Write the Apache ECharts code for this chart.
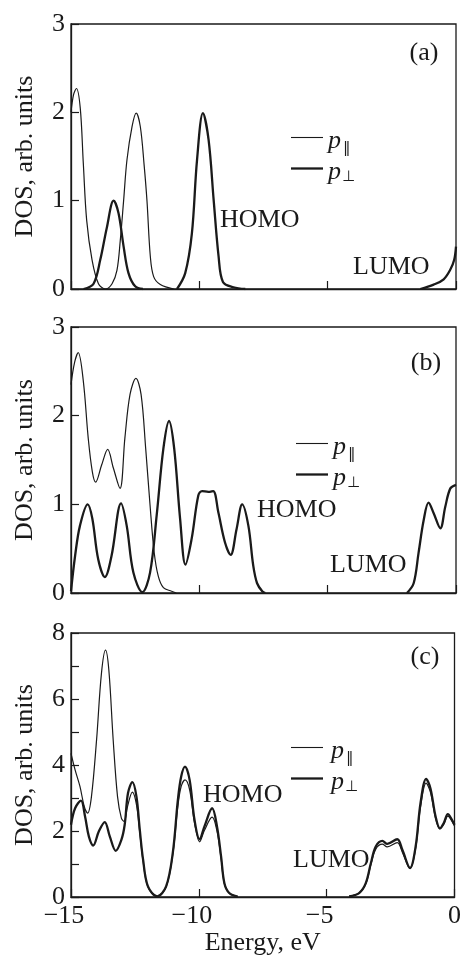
<!DOCTYPE html>
<html>
<head>
<meta charset="utf-8">
<script src="https://cdn.jsdelivr.net/npm/echarts@6/dist/echarts.min.js"></script>
<style>html,body{margin:0;padding:0;background:#fff}#c{width:464px;height:957px}</style>
</head>
<body>
<div id="c"></div>
<script>
// ---- tick labels ----
const xTicks = [-15, -10, -5, 0];
const yTicksAB = [0, 1, 2, 3];
const yTicksC = [0, 2, 4, 6, 8];
const panelLabels = ['(a)', '(b)', '(c)'];
const seriesNames = ['p‖', 'p⊥'];

// ---- panel (a): [energy eV, DOS] ----
const aPar = [[-15.0,2.00],[-14.90,2.20],[-14.79,2.27],[-14.64,2.05],[-14.52,1.42],[-14.39,0.78],[-14.18,0.33],[-13.93,0.06],[-13.66,0.0],[-13.40,0.06],[-13.21,0.21],[-13.08,0.55],[-12.95,1.00],[-12.82,1.46],[-12.62,1.84],[-12.46,1.99],[-12.30,1.84],[-12.15,1.40],[-12.04,1.00],[-11.91,0.37],[-11.78,0.14],[-11.52,0.05],[-11.0,0.0]];
const aPerp = [[-14.51,0.0],[-14.12,0.06],[-13.86,0.33],[-13.60,0.70],[-13.34,1.00],[-13.15,0.86],[-12.95,0.48],[-12.76,0.18],[-12.50,0.03],[-12.20,0.0],[null,null],[-10.87,0.0],[-10.55,0.18],[-10.29,0.63],[-10.09,1.46],[-9.86,1.99],[-9.64,1.69],[-9.44,1.00],[-9.25,0.37],[-9.08,0.08],[-8.67,0.02],[-8.21,0.0],[null,null],[-1.39,0.0],[-0.87,0.05],[-0.48,0.11],[-0.22,0.22],[-0.07,0.33],[0,0.48]];

// ---- panel (b) ----
const bPar = [[-15.0,2.35],[-14.86,2.60],[-14.72,2.71],[-14.52,2.39],[-14.33,1.75],[-14.17,1.37],[-14.04,1.25],[-13.81,1.44],[-13.57,1.62],[-13.35,1.41],[-13.09,1.18],[-12.90,1.75],[-12.70,2.24],[-12.47,2.42],[-12.27,2.24],[-12.09,1.63],[-11.92,0.99],[-11.76,0.46],[-11.60,0.19],[-11.40,0.06],[-11.08,0.02],[-10.90,0.0]];
const bPerp = [[-15.0,0.02],[-14.84,0.42],[-14.65,0.76],[-14.35,1.00],[-14.17,0.84],[-13.94,0.38],[-13.68,0.18],[-13.42,0.42],[-13.05,1.01],[-12.83,0.76],[-12.57,0.23],[-12.22,0.01],[-11.92,0.23],[-11.66,0.88],[-11.40,1.63],[-11.18,1.94],[-10.98,1.63],[-10.75,0.84],[-10.54,0.32],[-10.30,0.61],[-10.04,1.10],[-9.89,1.15],[-9.65,1.14],[-9.46,1.15],[-9.26,0.91],[-9.00,0.57],[-8.78,0.43],[-8.55,0.72],[-8.33,1.00],[-8.09,0.76],[-7.90,0.31],[-7.75,0.11],[-7.55,0.02],[-7.43,0.0],[null,null],[-1.91,0.0],[-1.65,0.11],[-1.46,0.45],[-1.26,0.82],[-1.07,1.02],[-0.87,0.90],[-0.61,0.73],[-0.42,0.97],[-0.22,1.18],[0,1.22]];

// ---- panel (c) ----
const cPar = [[-15.0,4.35],[-14.84,3.85],[-14.65,3.35],[-14.48,2.74],[-14.35,2.54],[-14.20,3.04],[-14.00,4.76],[-13.81,6.77],[-13.65,7.48],[-13.52,6.88],[-13.35,4.76],[-13.18,3.04],[-13.03,2.39],[-12.92,2.29],[-12.79,2.74],[-12.60,3.18],[-12.44,2.80],[-12.31,1.95],[-12.18,1.08],[-11.99,0.30],[-11.63,0.02],[-11.28,0.30],[-11.02,1.28],[-10.82,2.75],[-10.69,3.35],[-10.54,3.55],[-10.36,3.25],[-10.17,2.25],[-9.97,1.67],[-9.78,2.02],[-9.48,2.42],[-9.29,2.00],[-9.13,1.17],[-9.00,0.40],[-8.81,0.12],[-8.48,0.01],[null,null],[-4.12,0.02],[-3.73,0.12],[-3.47,0.40],[-3.27,0.98],[-3.08,1.45],[-2.82,1.60],[-2.63,1.52],[-2.24,1.65],[-2.04,1.36],[-1.74,0.86],[-1.52,1.47],[-1.33,2.72],[-1.11,3.45],[-0.94,3.17],[-0.74,2.38],[-0.57,2.06],[-0.42,2.20],[-0.26,2.45],[-0.10,2.30],[0,2.15]];
const cPerp = [[-15.0,2.19],[-14.84,2.69],[-14.61,2.92],[-14.45,2.44],[-14.30,1.83],[-14.13,1.56],[-13.91,1.99],[-13.68,2.27],[-13.48,1.83],[-13.25,1.40],[-13.03,1.73],[-12.90,2.19],[-12.77,3.15],[-12.60,3.48],[-12.44,3.04],[-12.31,2.04],[-12.18,1.13],[-11.99,0.32],[-11.63,0.02],[-11.28,0.32],[-11.02,1.33],[-10.82,2.94],[-10.69,3.65],[-10.54,3.95],[-10.36,3.55],[-10.17,2.34],[-9.97,1.75],[-9.78,2.14],[-9.48,2.69],[-9.29,2.14],[-9.13,1.23],[-9.00,0.42],[-8.81,0.12],[-8.48,0.01],[null,null],[-4.12,0.02],[-3.73,0.12],[-3.47,0.42],[-3.27,1.03],[-3.08,1.53],[-2.82,1.70],[-2.63,1.61],[-2.24,1.75],[-2.04,1.43],[-1.74,0.88],[-1.52,1.53],[-1.33,2.84],[-1.11,3.58],[-0.94,3.29],[-0.74,2.44],[-0.57,2.08],[-0.42,2.24],[-0.26,2.51],[-0.10,2.34],[0,2.19]];

const panelData = [[aPar, aPerp], [bPar, bPerp], [cPar, cPerp]];
const yMax = [3, 3, 8];

const INK = '#1a1a1a';
const FONT = '"Liberation Serif", "Times New Roman", serif';
const FS = 26;
const grids = [
  {left: 71, right: 8, top: 24, height: 265},
  {left: 71, right: 8, top: 327, height: 266},
  {left: 71, right: 8, top: 633, height: 264}
];

const option = {
  backgroundColor: '#fff',
  animation: false,
  grid: grids.map(g => Object.assign({show: true, borderColor: INK, borderWidth: 1.3, backgroundColor: 'transparent'}, g)),
  xAxis: grids.map((g, i) => ({
    gridIndex: i, type: 'value', position: 'bottom', min: xTicks[0], max: xTicks[xTicks.length - 1], interval: 5,
    axisLine: {onZero: false, lineStyle: {color: INK, width: 1.3}},
    axisTick: {inside: true, length: 8, lineStyle: {color: INK, width: 1.2}},
    splitLine: {show: false},
    axisLabel: {
      show: i === 2, color: INK, fontFamily: FONT, fontSize: FS, margin: 6,
      formatter: v => v < 0 ? '{n|−' + Math.abs(v) + '}' : '{p|' + v + '}',
      rich: {n: {fontFamily: FONT, fontSize: FS, color: INK, padding: [0, 14, 0, 0]}, p: {fontFamily: FONT, fontSize: FS, color: INK}}
    },
    name: i === 2 ? 'Energy, eV' : '', nameLocation: 'middle', nameGap: 33,
    nameTextStyle: {fontFamily: FONT, fontSize: FS, color: INK}
  })),
  yAxis: grids.map((g, i) => ({
    gridIndex: i, type: 'value', position: 'left', min: 0, max: yMax[i], interval: 1,
    axisLine: {show: true, onZero: false, lineStyle: {color: INK, width: 1.3}},
    axisTick: {show: true, inside: true, length: 8, lineStyle: {color: INK, width: 1.2}},
    splitLine: {show: false},
    axisLabel: {
      color: INK, fontFamily: FONT, fontSize: FS, margin: 6,
      formatter: v => (i === 2 ? (yTicksC.indexOf(v) >= 0 ? String(v) : '') : (yTicksAB.indexOf(v) >= 0 ? String(v) : ''))
    },
    name: 'DOS, arb. units', nameLocation: 'middle', nameRotate: 90, nameGap: 33,
    nameTextStyle: {fontFamily: FONT, fontSize: FS, color: INK}
  })),
  series: [],
  graphic: []
};

panelData.forEach((pair, i) => {
  pair.forEach((d, k) => {
    option.series.push({
      name: seriesNames[k], type: 'line', xAxisIndex: i, yAxisIndex: i,
      data: d, smooth: 0.35, showSymbol: false, connectNulls: false, clip: true,
      lineStyle: {color: INK, width: k === 0 ? 1.2 : 2.3}
    });
  });
});

function txt(x, y, s, extra) {
  return {type: 'text', x: x, y: y, z: 100, style: Object.assign({text: s, fontFamily: FONT, fontSize: FS, fill: INK, align: 'left', verticalAlign: 'middle'}, extra || {})};
}
function ln(x1, y1, x2, y2, w) {
  return {type: 'line', z: 100, shape: {x1: x1, y1: y1, x2: x2, y2: y2}, style: {stroke: INK, lineWidth: w}};
}
// panel labels
[[424, 53], [426, 363], [425, 657]].forEach((p, i) => option.graphic.push(txt(p[0], p[1], panelLabels[i], {align: 'center'})));
// HOMO / LUMO
[[220, 220], [257, 510], [203, 795]].forEach(p => option.graphic.push(txt(p[0], p[1], 'HOMO')));
[[353, 267], [330, 565], [293, 860]].forEach(p => option.graphic.push(txt(p[0], p[1], 'LUMO')));
// legends
[[291, 137.5, 328], [296, 443.5, 333], [291, 747.5, 331]].forEach(p => {
  const x0 = p[0], y0 = p[1], tx = p[2];
  option.graphic.push(ln(x0, y0, x0 + 32, y0, 1.1));
  option.graphic.push(ln(x0, y0 + 31, x0 + 32, y0 + 31, 2.3));
  option.graphic.push(txt(tx, y0 + 4, 'p', {fontStyle: 'italic'}));
  option.graphic.push(txt(tx + 15, y0 + 11, '‖', {fontSize: 15, fontFamily: '"DejaVu Serif", "DejaVu Sans", serif'}));
  option.graphic.push(txt(tx, y0 + 35, 'p', {fontStyle: 'italic'}));
  option.graphic.push(txt(tx + 14, y0 + 40, '⊥', {fontSize: 15, fontFamily: '"DejaVu Sans", sans-serif'}));
});

const chart = echarts.init(document.getElementById('c'), null, {renderer: 'canvas'});
chart.setOption(option);
</script>
</body>
</html>
